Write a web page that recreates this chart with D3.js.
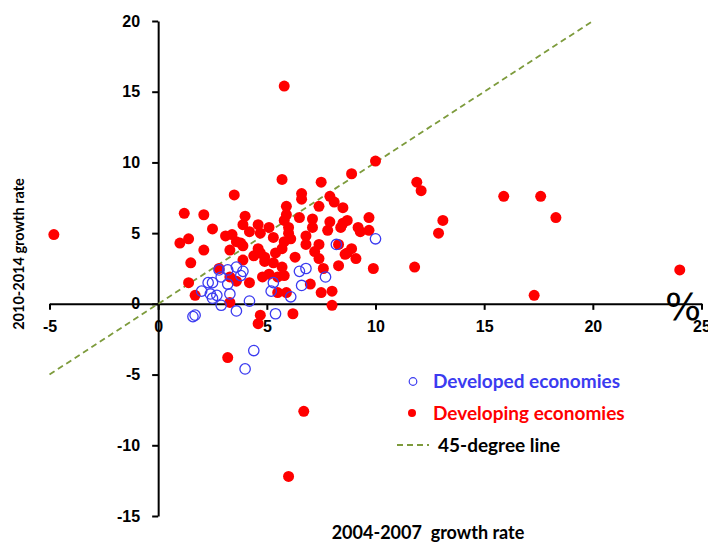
<!DOCTYPE html>
<html>
<head>
<meta charset="utf-8">
<script src="https://cdn.jsdelivr.net/npm/d3@7"></script>
<style>
  body { margin: 0; background: #fff; }
  svg { display: block; font-family: Lato, "Open Sans", sans-serif; }
  .axis path, .axis line { stroke: #000; stroke-width: 2; }
  .axis text { font-size: 16px; font-weight: bold; fill: #000; }
</style>
</head>
<body>
<div id="chart"></div>
<script>
// growth rates: [2004-2007, 2010-2014]
var developed = [
  [8.2, 4.2], [2.8, 2.4], [3.2, 2.4], [3.6, 2.6], [3.8, 2.0], [2.9, 1.9], [2.3, 1.5], [2.5, 1.5],
  [3.2, 1.4], [5.3, 1.5], [6.5, 2.3], [6.8, 2.5], [7.7, 1.9], [6.6, 1.3], [2.0, 0.9], [2.4, 0.7],
  [2.7, 0.6], [3.3, 0.7], [2.5, 0.4], [5.2, 0.9], [6.1, 0.5], [4.2, 0.2], [2.9, -0.1], [3.6, -0.5],
  [5.4, -0.7], [1.6, -0.9], [1.7, -0.8], [10.0, 4.6], [4.4, -3.3], [4.0, -4.6], [3.9, 2.3]
];

var developing = [
  [5.7, 8.8], [7.5, 8.6], [3.5, 7.7], [6.6, 7.8], [6.6, 7.4], [7.9, 7.6], [8.1, 7.2], [5.9, 6.9],
  [7.4, 6.9], [8.5, 6.8], [1.2, 6.4], [2.1, 6.3], [4.0, 6.2], [5.9, 6.3], [6.5, 6.1], [7.1, 6.0],
  [5.8, 5.9], [7.9, 5.8], [8.5, 5.7], [3.9, 5.6], [4.6, 5.6], [2.5, 5.3], [5.1, 5.4], [6.0, 5.4],
  [4.2, 5.1], [4.7, 5.0], [7.1, 5.4], [8.4, 5.4], [3.4, 4.9], [3.1, 4.8], [5.3, 4.7], [6.0, 5.0],
  [6.1, 4.6], [6.8, 4.8], [1.4, 4.6], [1.0, 4.3], [3.6, 4.4], [3.8, 4.3], [5.8, 4.4], [6.8, 4.2],
  [7.4, 4.2], [8.3, 4.2], [3.9, 4.1], [4.6, 3.9], [5.7, 3.9], [2.1, 3.8], [3.3, 3.8], [4.7, 3.6],
  [7.2, 3.7], [8.7, 3.6], [4.4, 3.4], [4.9, 3.3], [5.4, 3.6], [6.3, 3.3], [7.4, 3.2], [1.5, 2.9],
  [3.9, 3.1], [4.9, 3.0], [5.3, 2.9], [5.7, 2.6], [8.3, 2.7], [2.8, 2.5], [7.6, 2.5], [3.3, 1.9],
  [5.1, 2.1], [5.5, 1.9], [5.8, 2.0], [4.8, 1.9], [1.4, 1.5], [3.6, 1.6], [4.2, 1.5], [7.0, 1.4],
  [1.7, 0.6], [5.5, 0.8], [5.9, 0.8], [7.5, 0.8], [8.0, 0.9], [3.3, 0.1], [8.0, -0.1], [6.2, -0.7],
  [4.7, -0.8], [4.6, -1.4], [10.0, 10.1], [8.9, 9.2], [11.9, 8.6], [12.1, 8.0], [8.7, 5.9], [9.7, 6.1],
  [7.8, 5.2], [9.2, 5.4], [9.3, 5.1], [9.7, 5.2], [8.9, 3.9], [8.6, 3.5], [9.1, 3.2], [9.9, 2.5],
  [11.8, 2.6], [-4.8, 4.9], [5.8, 15.4], [15.9, 7.6], [17.6, 7.6], [18.3, 6.1], [13.1, 5.9], [12.9, 5.0],
  [17.3, 0.6], [24.0, 2.4], [3.2, -3.8], [6.7, -7.6], [6.0, -12.2]
];

var xTicks = [-5, 0, 5, 10, 15, 20, 25];
var yTicks = [-15, -10, -5, 0, 5, 10, 15, 20];
var diagonal = [-5, 20];

var width = 708, height = 543;

var svg = d3.select('#chart').append('svg')
    .attr('width', width)
    .attr('height', height);

var x = d3.scaleLinear().domain([-5, 25]).range([49.5, 701.5]);
var y = d3.scaleLinear().domain([-15, 20]).range([516, 21]);

// plain hyphen for negatives, like the original
var plain = function(d) { return String(d); };

// axes cross at the origin
svg.append('g')
    .attr('class', 'axis')
    .attr('transform', 'translate(0,' + y(0) + ')')
    .call(d3.axisBottom(x).tickValues(xTicks).tickFormat(plain)
      .tickSize(6).tickSizeOuter(0).tickPadding(11));

svg.append('g')
    .attr('class', 'axis')
    .attr('transform', 'translate(' + x(0) + ',0)')
    .call(d3.axisLeft(y).tickValues(yTicks).tickFormat(plain)
      .tickSize(6).tickSizeOuter(0).tickPadding(12));

// 45-degree line
svg.append('line')
    .attr('x1', x(diagonal[0])).attr('y1', y(diagonal[0]))
    .attr('x2', x(diagonal[1])).attr('y2', y(diagonal[1]))
    .attr('stroke', '#7d9b3c')
    .attr('stroke-width', 1.8)
    .attr('stroke-dasharray', '6,4');

svg.append('g').selectAll('circle')
    .data(developing)
  .enter().append('circle')
    .attr('cx', function(d) { return x(d[0]); })
    .attr('cy', function(d) { return y(d[1]); })
    .attr('r', 5.5)
    .attr('fill', '#ff0000');

svg.append('g').selectAll('circle')
    .data(developed)
  .enter().append('circle')
    .attr('cx', function(d) { return x(d[0]); })
    .attr('cy', function(d) { return y(d[1]); })
    .attr('r', 5.2)
    .attr('fill', 'none')
    .attr('stroke', '#3b3bf0')
    .attr('stroke-width', 1.3);

// "%" marker at the end of the x axis
svg.append('text')
    .attr('x', 683)
    .attr('y', 320)
    .attr('text-anchor', 'middle')
    .style('font-size', '38px')
    .style('font-family', '"DejaVu Sans", sans-serif')
    .text('%');

// axis titles
svg.append('text')
    .attr('x', 428)
    .attr('y', 539)
    .attr('text-anchor', 'middle')
    .style('font-size', '18px')
    .style('font-weight', 'bold')
    .style('white-space', 'pre')
    .text('2004-2007  growth rate');

svg.append('text')
    .attr('transform', 'translate(24,254) rotate(-90)')
    .attr('text-anchor', 'middle')
    .style('font-size', '14.5px')
    .style('font-weight', 'bold')
    .text('2010-2014 growth rate');

// legend
var legend = svg.append('g').style('font-size', '19px').style('font-weight', 'bold');

legend.append('circle')
    .attr('cx', 413).attr('cy', 381.5).attr('r', 3.8)
    .attr('fill', 'none').attr('stroke', '#3b3bf0').attr('stroke-width', 1.2);
legend.append('text')
    .attr('x', 433).attr('y', 388)
    .attr('fill', '#3b3bf0')
    .text('Developed economies');

legend.append('circle')
    .attr('cx', 412).attr('cy', 413).attr('r', 4)
    .attr('fill', '#ff0000');
legend.append('text')
    .attr('x', 433).attr('y', 419.5)
    .attr('fill', '#ff0000')
    .text('Developing economies');

legend.append('line')
    .attr('x1', 397).attr('x2', 429).attr('y1', 445).attr('y2', 445)
    .attr('stroke', '#7d9b3c').attr('stroke-width', 1.8)
    .attr('stroke-dasharray', '6,4');
legend.append('text')
    .attr('x', 438).attr('y', 451.5)
    .attr('fill', '#000')
    .text('45-degree line');
</script>
</body>
</html>
